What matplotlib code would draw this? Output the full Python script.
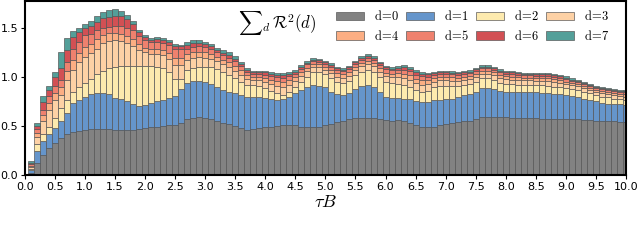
import numpy as np
import matplotlib
matplotlib.use("Agg")
import matplotlib.pyplot as plt

plt.rcParams['mathtext.fontset'] = 'cm'

tau_b = np.round(np.arange(1, 101) * 0.1, 1)

# layer heights per bar, d=0 .. d=7
d0 = [0.025, 0.125, 0.20, 0.27, 0.33, 0.38, 0.415, 0.44, 0.45, 0.46,
      0.465, 0.47, 0.47, 0.465, 0.46, 0.455, 0.455, 0.46, 0.465, 0.475,
      0.485, 0.49, 0.50, 0.505, 0.51, 0.535, 0.57, 0.585, 0.59, 0.585,
      0.575, 0.555, 0.535, 0.52, 0.50, 0.475, 0.46, 0.465, 0.475, 0.485,
      0.49, 0.50, 0.505, 0.505, 0.505, 0.49, 0.49, 0.49, 0.49, 0.505,
      0.52, 0.545, 0.555, 0.57, 0.58, 0.585, 0.585, 0.58, 0.57, 0.56,
      0.555, 0.56, 0.555, 0.535, 0.51, 0.49, 0.485, 0.49, 0.51, 0.525,
      0.535, 0.545, 0.55, 0.555, 0.57, 0.59, 0.595, 0.595, 0.592, 0.59,
      0.585, 0.585, 0.58, 0.58, 0.577, 0.573, 0.573, 0.573, 0.573, 0.573,
      0.57, 0.57, 0.563, 0.56, 0.555, 0.555, 0.555, 0.552, 0.545, 0.54]
d1 = [0.025, 0.115, 0.15, 0.145, 0.15, 0.17, 0.22, 0.29, 0.315, 0.34,
      0.365, 0.365, 0.365, 0.36, 0.33, 0.315, 0.295, 0.26, 0.24, 0.235,
      0.245, 0.26, 0.265, 0.28, 0.30, 0.34, 0.365, 0.375, 0.37, 0.365,
      0.355, 0.345, 0.335, 0.33, 0.335, 0.34, 0.34, 0.335, 0.325, 0.305,
      0.29, 0.265, 0.27, 0.295, 0.33, 0.38, 0.405, 0.43, 0.42, 0.39,
      0.33, 0.28, 0.26, 0.265, 0.295, 0.325, 0.335, 0.315, 0.28, 0.24,
      0.235, 0.23, 0.225, 0.235, 0.24, 0.25, 0.255, 0.27, 0.255, 0.245,
      0.245, 0.255, 0.265, 0.27, 0.28, 0.295, 0.295, 0.285, 0.268, 0.26,
      0.26, 0.257, 0.265, 0.27, 0.268, 0.267, 0.262, 0.252, 0.249, 0.242,
      0.24, 0.23, 0.217, 0.205, 0.195, 0.175, 0.17, 0.168, 0.175, 0.175]
d2 = [0.015, 0.08, 0.07, 0.075, 0.10, 0.13, 0.13, 0.12, 0.13, 0.135,
      0.145, 0.195, 0.23, 0.265, 0.315, 0.34, 0.36, 0.39, 0.405, 0.40,
      0.38, 0.355, 0.325, 0.265, 0.17, 0.105, 0.135, 0.13, 0.145, 0.155,
      0.17, 0.185, 0.185, 0.17, 0.15, 0.135, 0.12, 0.12, 0.11, 0.095,
      0.08, 0.07, 0.04, 0.05, 0.065, 0.08, 0.105, 0.135, 0.145, 0.13,
      0.135, 0.125, 0.125, 0.125, 0.145, 0.145, 0.15, 0.16, 0.15, 0.15,
      0.145, 0.14, 0.14, 0.125, 0.12, 0.11, 0.12, 0.135, 0.145, 0.14,
      0.13, 0.11, 0.105, 0.105, 0.10, 0.10, 0.095, 0.09, 0.075, 0.08,
      0.08, 0.078, 0.075, 0.07, 0.072, 0.075, 0.075, 0.075, 0.073, 0.07,
      0.065, 0.07, 0.07, 0.07, 0.065, 0.07, 0.07, 0.06, 0.055, 0.05]
d3 = [0.015, 0.07, 0.133, 0.176, 0.187, 0.136, 0.20, 0.22, 0.26, 0.27,
      0.265, 0.26, 0.28, 0.28, 0.275, 0.26, 0.24, 0.21, 0.165, 0.14,
      0.125, 0.13, 0.13, 0.135, 0.14, 0.14, 0.10, 0.10, 0.095, 0.089,
      0.084, 0.075, 0.075, 0.08, 0.079, 0.072, 0.06, 0.051, 0.054, 0.063,
      0.068, 0.074, 0.079, 0.072, 0.06, 0.06, 0.058, 0.047, 0.046, 0.049,
      0.054, 0.054, 0.053, 0.054, 0.051, 0.054, 0.058, 0.054, 0.054, 0.058,
      0.06, 0.065, 0.07, 0.074, 0.07, 0.072, 0.065, 0.056, 0.054, 0.054,
      0.053, 0.051, 0.05, 0.049, 0.051, 0.047, 0.047, 0.047, 0.051, 0.047,
      0.048, 0.047, 0.044, 0.044, 0.043, 0.044, 0.046, 0.046, 0.044, 0.042,
      0.039, 0.035, 0.035, 0.033, 0.033, 0.033, 0.032, 0.033, 0.033, 0.035]
d4 = [0.015, 0.04, 0.06, 0.068, 0.068, 0.078, 0.10, 0.10, 0.085, 0.10,
      0.10, 0.10, 0.085, 0.075, 0.068, 0.07, 0.07, 0.07, 0.06, 0.05,
      0.05, 0.05, 0.055, 0.06, 0.07, 0.07, 0.063, 0.063, 0.059, 0.056,
      0.053, 0.047, 0.047, 0.051, 0.05, 0.045, 0.037, 0.032, 0.034, 0.04,
      0.043, 0.046, 0.05, 0.045, 0.037, 0.037, 0.036, 0.03, 0.029, 0.031,
      0.034, 0.034, 0.033, 0.034, 0.032, 0.034, 0.036, 0.034, 0.034, 0.036,
      0.037, 0.041, 0.044, 0.046, 0.044, 0.045, 0.041, 0.035, 0.034, 0.034,
      0.033, 0.032, 0.031, 0.031, 0.032, 0.03, 0.03, 0.03, 0.032, 0.03,
      0.03, 0.03, 0.028, 0.028, 0.027, 0.028, 0.029, 0.029, 0.028, 0.026,
      0.024, 0.022, 0.022, 0.021, 0.021, 0.021, 0.02, 0.021, 0.021, 0.022]
d5 = [0.015, 0.036, 0.05, 0.068, 0.075, 0.075, 0.085, 0.11, 0.12, 0.12,
      0.10, 0.085, 0.07, 0.068, 0.075, 0.08, 0.08, 0.085, 0.08, 0.075,
      0.07, 0.07, 0.075, 0.08, 0.09, 0.09, 0.057, 0.057, 0.054, 0.051,
      0.048, 0.043, 0.043, 0.046, 0.045, 0.041, 0.034, 0.029, 0.031, 0.036,
      0.039, 0.042, 0.045, 0.041, 0.034, 0.034, 0.033, 0.027, 0.026, 0.028,
      0.031, 0.031, 0.03, 0.031, 0.029, 0.031, 0.033, 0.031, 0.031, 0.033,
      0.034, 0.037, 0.04, 0.042, 0.04, 0.041, 0.037, 0.032, 0.031, 0.031,
      0.03, 0.029, 0.028, 0.028, 0.029, 0.027, 0.027, 0.027, 0.029, 0.027,
      0.027, 0.027, 0.025, 0.025, 0.025, 0.025, 0.026, 0.026, 0.025, 0.024,
      0.022, 0.02, 0.02, 0.019, 0.019, 0.019, 0.018, 0.019, 0.019, 0.02]
d6 = [0.015, 0.034, 0.085, 0.068, 0.088, 0.12, 0.12, 0.13, 0.095, 0.07,
      0.08, 0.09, 0.10, 0.10, 0.10, 0.10, 0.09, 0.07, 0.04, 0.03,
      0.025, 0.03, 0.03, 0.035, 0.04, 0.035, 0.034, 0.034, 0.032, 0.031,
      0.029, 0.026, 0.026, 0.028, 0.027, 0.025, 0.02, 0.017, 0.019, 0.022,
      0.023, 0.025, 0.027, 0.025, 0.02, 0.02, 0.02, 0.016, 0.015, 0.017,
      0.019, 0.019, 0.018, 0.019, 0.017, 0.019, 0.02, 0.019, 0.019, 0.02,
      0.02, 0.022, 0.024, 0.025, 0.024, 0.025, 0.022, 0.019, 0.019, 0.019,
      0.018, 0.017, 0.017, 0.017, 0.017, 0.016, 0.016, 0.016, 0.017, 0.016,
      0.016, 0.016, 0.015, 0.015, 0.015, 0.015, 0.015, 0.015, 0.015, 0.014,
      0.013, 0.012, 0.012, 0.011, 0.011, 0.011, 0.011, 0.011, 0.011, 0.012]
d7 = [0.015, 0.027, 0.058, 0.04, 0.054, 0.163, 0.13, 0.058, 0.04, 0.045,
      0.05, 0.055, 0.06, 0.068, 0.068, 0.05, 0.04, 0.03, 0.025, 0.02,
      0.02, 0.02, 0.02, 0.02, 0.015, 0.015, 0.031, 0.031, 0.03, 0.028,
      0.026, 0.024, 0.024, 0.025, 0.024, 0.022, 0.019, 0.016, 0.017, 0.019,
      0.022, 0.023, 0.024, 0.022, 0.019, 0.019, 0.018, 0.015, 0.014, 0.015,
      0.017, 0.017, 0.016, 0.017, 0.016, 0.017, 0.018, 0.017, 0.017, 0.018,
      0.019, 0.02, 0.022, 0.023, 0.022, 0.022, 0.02, 0.018, 0.017, 0.017,
      0.018, 0.016, 0.016, 0.015, 0.016, 0.015, 0.015, 0.015, 0.016, 0.015,
      0.016, 0.015, 0.013, 0.013, 0.013, 0.013, 0.014, 0.014, 0.013, 0.014,
      0.012, 0.011, 0.011, 0.011, 0.011, 0.011, 0.009, 0.011, 0.011, 0.011]

layers = [d0, d1, d2, d3, d4, d5, d6, d7]
labels = [r'$\mathrm{d\!=\!%d}$' % i for i in range(8)]
colors = ['#7b7b7b', '#5d8fc9', '#fde9aa', '#fdcfa0', '#fcaa7c',
          '#ef7a66', '#d0464b', '#4a9a94']

fig = plt.figure(figsize=(6.4, 2.42), dpi=100)
ax = fig.add_axes([0.039, 0.277, 0.939, 0.719])

bottom = np.zeros(len(tau_b))
bars = []
for vals, lab, col in zip(layers, labels, colors):
    vals = np.array(vals)
    b = ax.bar(tau_b, vals, width=0.1, bottom=bottom, color=col,
               edgecolor='#555555', linewidth=0.5, alpha=0.95, label=lab)
    bars.append(b)
    bottom += vals

ax.set_xlim(0, 10)
ax.set_ylim(0, 1.775)
ax.set_xticks(np.arange(0, 10.01, 0.5))
ax.set_yticks([0.0, 0.5, 1.0, 1.5])
ax.tick_params(labelsize=8, length=3, width=0.8, pad=2)
for s in ax.spines.values():
    s.set_linewidth(1.5)

ax.set_xlabel(r'$\tau B$', fontsize=13, labelpad=1)
ax.text(0.42, 0.875, r'${\sum}_d\,\mathcal{R}^2(d)$', transform=ax.transAxes,
        fontsize=12, ha='center', va='center')

# legend filled row by row: d=0..3 on top, d=4..7 below
order = [0, 4, 1, 5, 2, 6, 3, 7]
ax.legend([bars[i] for i in order], [labels[i] for i in order],
          ncol=4, loc='upper right', bbox_to_anchor=(0.985, 0.995),
          frameon=False, fontsize=9, handlelength=2.2, handleheight=0.7,
          columnspacing=0.6, labelspacing=0.45, handletextpad=0.8,
          borderaxespad=0.2)

fig.savefig("out.png", dpi=100)
